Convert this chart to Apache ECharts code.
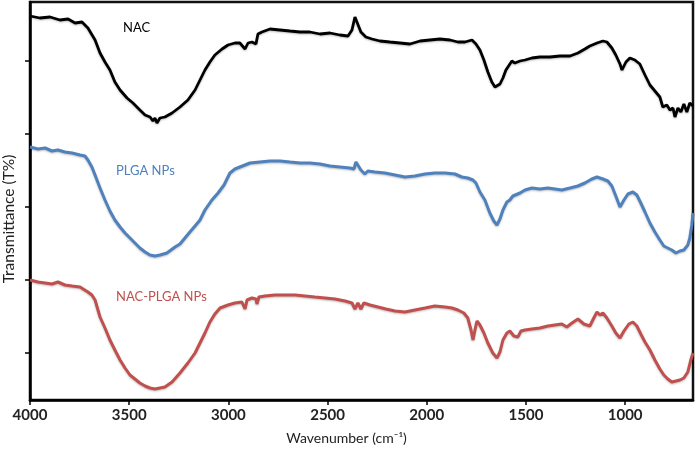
<!DOCTYPE html>
<html>
<head>
<meta charset="utf-8">
<script src="https://cdn.jsdelivr.net/npm/echarts@6/dist/echarts.min.js"></script>
<style>
html,body{margin:0;padding:0;background:#fff;}
#chart{width:696px;height:451px;}
</style>
</head>
<body>
<div id="chart"></div>
<script>
// Wavenumber (cm-1) and transmittance (arbitrary offset T%) for each spectrum
const nacWavenumber = [4000,3950,3899,3849,3808,3773,3738,3708,3672,3647,3622,3597,3572,3546,3511,3481,3446,3420,3395,3380,3370,3360,3345,3320,3284,3244,3204,3168,3143,3118,3093,3068,3032,3002,2967,2942,2916,2901,2881,2861,2851,2831,2790,2740,2690,2639,2589,2538,2488,2438,2397,2377,2362,2352,2342,2332,2322,2307,2276,2236,2186,2135,2085,2034,1984,1934,1883,1843,1808,1772,1752,1732,1712,1692,1672,1656,1646,1631,1616,1601,1591,1581,1571,1556,1530,1505,1470,1430,1379,1329,1278,1238,1203,1178,1142,1112,1092,1067,1047,1026,1016,996,976,951,926,900,875,850,825,810,790,774,759,749,734,719,704,689,674,658];
const nacT = [96,95.5,95.75,95,95.25,94.25,94.5,93,90,86.75,84.5,82.5,79.5,77.5,75.5,74.25,72.5,71.25,70.75,69.75,70.5,69.25,70.5,70.75,71.75,73.25,75,77.5,80,82.5,84.5,86.25,87.75,88.75,89.25,89.25,87.75,89.25,89.5,89,91.5,92,92.75,92.5,92.25,92,92,91.5,91.75,91.25,91,92.5,95.75,94.5,94.25,92,91.75,90.75,90.25,89.75,89.5,89.25,89,89.75,90,90.25,90,89.5,89.5,90,89,87.5,85,82,79.5,78.25,78,79,80.5,82.5,83.25,84,84.75,84.25,84.75,85,85.5,85.75,85.75,86,86,86.75,87.75,88.5,89.25,89.75,89.5,88,86.25,84,82.5,84.5,85.5,85,84,81.25,78.75,77.25,75.75,73.25,73.75,72.5,73,70.75,73,72,74,72,74.25,73.5];

const plgaWavenumber = [4000,3960,3924,3889,3859,3824,3788,3748,3723,3708,3688,3672,3647,3622,3597,3572,3546,3521,3496,3471,3446,3420,3395,3370,3345,3310,3269,3244,3219,3194,3168,3143,3118,3083,3052,3022,2992,2967,2942,2891,2841,2790,2740,2690,2639,2589,2538,2488,2438,2387,2367,2357,2347,2332,2312,2297,2261,2211,2160,2110,2060,2009,1959,1908,1858,1823,1793,1767,1752,1732,1707,1682,1662,1646,1631,1616,1596,1581,1566,1530,1505,1470,1430,1389,1354,1319,1278,1238,1203,1168,1142,1112,1087,1067,1047,1026,1006,986,961,941,921,900,875,850,825,805,785,765,744,724,704,684,674,664,658];
const plgaT = [63.25,62.75,63,62.25,62.5,62,61.75,61.25,61,60,58.25,56.25,53,50,47.25,45,43.25,41.75,40.5,39.25,38,37,36.25,36,36.25,36.75,38.25,39,40.5,42,43.5,45,47.5,50,51.75,53.75,56.75,57.75,58.25,59.25,59.5,59.75,59.75,59.5,59.25,59.25,59,58.5,58.25,58,57.75,59.5,59,57.5,56.5,57.25,57,56.75,56.25,55.75,56,56.5,56.75,56.75,56.5,55.75,55.5,55,54.25,52,50,46.75,44.75,43.75,45.25,47.5,49.5,50,51,51.75,52.5,53,52.75,53,52.75,52.5,53,53.5,54.25,55.25,55.75,55.25,54.75,53.5,51,48.25,50,51.5,52,51.25,49.25,47,44.25,42,40,38.5,38,37.5,36.75,37.25,37.5,38.75,40.5,43.75,46.75];

const nacPlgaWavenumber = [4000,3960,3924,3889,3859,3824,3788,3748,3708,3688,3672,3647,3622,3597,3572,3546,3521,3496,3471,3446,3420,3395,3370,3345,3320,3284,3244,3204,3168,3143,3118,3093,3068,3042,3002,2967,2932,2916,2906,2881,2861,2856,2846,2816,2765,2715,2664,2614,2564,2513,2463,2412,2377,2367,2362,2347,2332,2317,2286,2246,2206,2160,2110,2060,2009,1959,1908,1873,1843,1813,1793,1777,1767,1757,1747,1732,1712,1692,1667,1646,1631,1616,1596,1581,1561,1541,1525,1505,1470,1430,1389,1354,1319,1294,1268,1238,1208,1178,1158,1142,1127,1112,1092,1067,1047,1026,1006,981,961,941,921,900,875,850,825,805,785,765,744,724,704,684,669,658];
const nacPlgaT = [30,29.5,29.25,29,29.5,28.75,28.5,28.25,27,26.25,25,20.75,18,15,12.5,10,8,6.25,5.25,4.25,3.5,3,2.75,3,3.25,4.5,6.75,9.25,11.75,14.25,16.75,19.5,21.5,23,23.75,24.25,24.5,22.75,25,25.5,25.25,24,25.75,26,26.25,26.25,26.25,26,25.75,25.5,25.25,24.75,24.25,24.75,22.75,24.25,22.75,24.25,23.75,23.25,22.75,22.25,22,22.5,23,23.5,23.25,23,22.5,21.75,20.5,17.5,15,17.5,19.75,18.75,16.75,14.25,11.75,10.5,12,15,16.75,17.25,16,15.75,17.25,17.5,17.75,18,18.5,18.75,19,18.25,19.25,20.25,19,18.5,20.5,22,21.25,21.75,20.5,18.5,16.75,15.5,17.25,19,19.5,18.5,16.5,14.5,12.5,10,7.75,6.25,5.25,4.5,4.75,5,5.5,7,10,11.75];

const xTickLabels = [4000,3500,3000,2500,2000,1500,1000];
const yTickValues = [11.75,30,48.25,66.5,84.75];
const seriesNames = ['NAC','PLGA NPs','NAC-PLGA NPs'];
const seriesColors = ['#000000','#4F81BD','#C0504D'];

function pairs(xs, ys){ return xs.map((x,i)=>[x, ys[i]]); }

const chart = echarts.init(document.getElementById('chart'), null, {renderer:'canvas'});
const fontFam = 'Lato, "Open Sans", "Liberation Sans", sans-serif';
const dataSets = [pairs(nacWavenumber,nacT), pairs(plgaWavenumber,plgaT), pairs(nacPlgaWavenumber,nacPlgaT)];
const widths = [2.8, 3, 3];

chart.setOption({
  animation:false,
  backgroundColor:'#fff',
  grid:{left:30,right:3,top:2,bottom:51,outerBoundsMode:'none',containLabel:false,show:true,borderColor:'#111',borderWidth:2.5,backgroundColor:'transparent'},
  xAxis:{
    type:'value', inverse:true, min:658, max:4000,
    name:'Wavenumber (cm\u207B\u00B9)', nameLocation:'middle', nameGap:31,
    nameTextStyle:{fontFamily:fontFam,fontSize:14,color:'#222',padding:[0,30,0,0]},
    axisLine:{show:true,onZero:false,lineStyle:{color:'#000',width:2.5}},
    axisTick:{show:true,length:5,inside:false,lineStyle:{color:'#000',width:1.5},customValues:xTickLabels},
    axisLabel:{customValues:xTickLabels,formatter:function(v){return String(v);},fontFamily:fontFam,fontSize:15,fontWeight:'bold',color:'#222',margin:8},
    splitLine:{show:false}
  },
  yAxis:{
    type:'value', min:0, max:99.5,
    name:'Transmittance (T%)', nameLocation:'middle', nameGap:13, nameRotate:90,
    nameTextStyle:{fontFamily:fontFam,fontSize:15.5,color:'#222',padding:[0,36,0,0]},
    axisLine:{show:true,onZero:false,lineStyle:{color:'#000',width:2.5}},
    axisTick:{show:true,length:5,inside:false,lineStyle:{color:'#000',width:1.5},customValues:yTickValues},
    axisLabel:{show:false,customValues:yTickValues},
    splitLine:{show:false}
  },
  series: dataSets.map((d,i)=>({
    name:seriesNames[i], type:'line', data:d, showSymbol:false, symbol:'none', smooth:false,
    lineStyle:{color:seriesColors[i],width:widths[i],shadowColor:'rgba(0,0,0,0.25)',shadowBlur:2,shadowOffsetY:1},
    z:3-i
  })),
  graphic:[
    {type:'text',left:123,top:21,style:{text:seriesNames[0],fill:seriesColors[0],font:'13px '+fontFam}},
    {type:'text',left:116,top:164,style:{text:seriesNames[1],fill:seriesColors[1],font:'13px '+fontFam}},
    {type:'text',left:116,top:290,style:{text:seriesNames[2],fill:seriesColors[2],font:'13px '+fontFam}}
  ]
});
</script>
</body>
</html>
